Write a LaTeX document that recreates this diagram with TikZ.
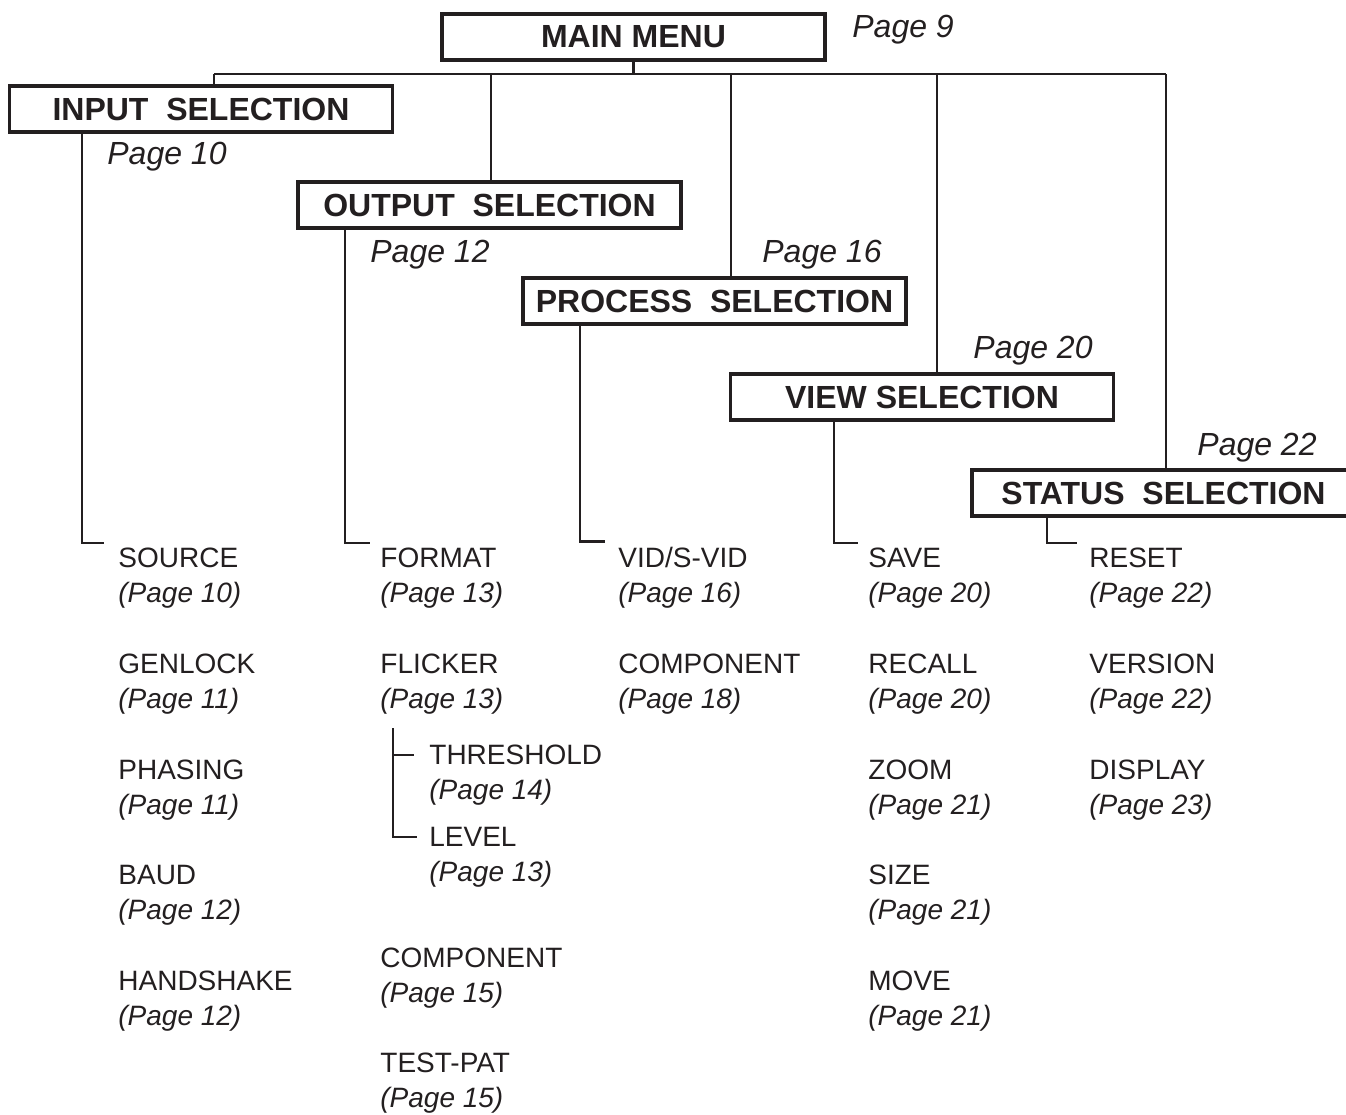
\documentclass[tikz,border=0pt]{standalone}
\usepackage{fontspec}
\setmainfont{Liberation Sans}
\usepackage{tikz}
\definecolor{inkdark}{HTML}{231F20}

\tikzset{
    menubox/.style={draw=inkdark, line width=1.6pt, fill=white, text=inkdark,
        minimum width=191.5pt, minimum height=23pt, inner sep=0pt,
        font=\fontsize{16}{19}\selectfont\bfseries},
    pagelbl/.style={anchor=base west, inner sep=0pt, text=inkdark,
        font=\fontsize{16}{19}\selectfont\itshape},
    item/.style={anchor=north west, inner sep=0pt, align=left, text=inkdark,
        font=\fontsize{14}{17.5}\selectfont},
    link/.style={draw=inkdark, line width=1.3pt}
}
\newcommand{\pref}[1]{\textit{(Page #1)}}

\begin{document}
\begin{tikzpicture}[x=0.5pt, y=-0.5pt]
\useasboundingbox (0,0) rectangle (1346,1115);

% ---- menu boxes ----
\node[menubox] (main)    at ( 633.5,  37) {MAIN MENU};
\node[menubox] (input)   at ( 201.0, 109) {INPUT\ \ SELECTION};
\node[menubox] (output)  at ( 489.5, 205) {OUTPUT\ \ SELECTION};
\node[menubox] (process) at ( 714.5, 301) {PROCESS\ \ SELECTION};
\node[menubox] (view)    at ( 922.0, 397) {VIEW SELECTION};
\node[menubox] (status)  at (1163.5, 493) {STATUS\ \ SELECTION};

% ---- page references of the menus ----
\node[pagelbl] (pmain)    at ( 852,  37) {Page 9};
\node[pagelbl] (pinput)   at ( 107, 164) {Page 10};
\node[pagelbl] (poutput)  at ( 370, 262) {Page 12};
\node[pagelbl] (pprocess) at ( 762, 262) {Page 16};
\node[pagelbl] (pview)    at ( 973, 358) {Page 20};
\node[pagelbl] (pstatus)  at (1197, 455) {Page 22};

% ---- input selection items ----
\node[item] (source)    at (118, 548.0) {SOURCE\\\pref{10}};
\node[item] (genlock)   at (118, 653.6) {GENLOCK\\\pref{11}};
\node[item] (phasing)   at (118, 759.2) {PHASING\\\pref{11}};
\node[item] (baud)      at (118, 864.8) {BAUD\\\pref{12}};
\node[item] (handshake) at (118, 970.4) {HANDSHAKE\\\pref{12}};

% ---- output selection items ----
\node[item] (format)    at (380, 548)  {FORMAT\\\pref{13}};
\node[item] (flicker)   at (380, 654)  {FLICKER\\\pref{13}};
\node[item] (threshold) at (429, 745)  {THRESHOLD\\\pref{14}};
\node[item] (level)     at (429, 827)  {LEVEL\\\pref{13}};
\node[item] (outcomp)   at (380, 948)  {COMPONENT\\\pref{15}};
\node[item] (testpat)   at (380, 1053) {TEST-PAT\\\pref{15}};

% ---- process selection items ----
\node[item] (vidsvid)   at (618, 546.5) {VID/S-VID\\\pref{16}};
\node[item] (proccomp)  at (618, 654)   {COMPONENT\\\pref{18}};

% ---- view selection items ----
\node[item] (save)      at (868, 548.0) {SAVE\\\pref{20}};
\node[item] (recall)    at (868, 653.6) {RECALL\\\pref{20}};
\node[item] (zoom)      at (868, 759.2) {ZOOM\\\pref{21}};
\node[item] (size)      at (868, 864.8) {SIZE\\\pref{21}};
\node[item] (move)      at (868, 970.4) {MOVE\\\pref{21}};

% ---- status selection items ----
\node[item] (reset)     at (1089, 548.0) {RESET\\\pref{22}};
\node[item] (version)   at (1089, 653.6) {VERSION\\\pref{22}};
\node[item] (display)   at (1089, 759.2) {DISPLAY\\\pref{23}};

% ---- bus from the main menu ----
\coordinate (busL) at (214,74);
\coordinate (busR) at (1166,74);
\draw[link] (main.south) -- (main.south |- busL);
\draw[link] (busL) -- (busR);
\foreach \x/\n in {214/input, 491/output, 731/process, 937/view, 1166/status}
    \draw[link] (\x,74) -- (\x,74 |- \n.north);

% ---- drops to the first item of each menu ----
\foreach \x/\n/\f/\g in {82/input/source/14, 345/output/format/10,
        580/process/vidsvid/13, 834/view/save/10, 1047/status/reset/12}
    \draw[link] (\x,0 |- \n.south) |- ([shift={(-\g,-5)}]\f.north west);

% ---- flicker sub menu ----
\coordinate (flk) at (393,728);
\coordinate (thr) at ([shift={(-15,10)}]threshold.north west);
\draw[link] (flk) |- ([shift={(-12,10)}]level.north west);
\draw[link] (flk |- thr) -- (thr);

\end{tikzpicture}
\end{document}
